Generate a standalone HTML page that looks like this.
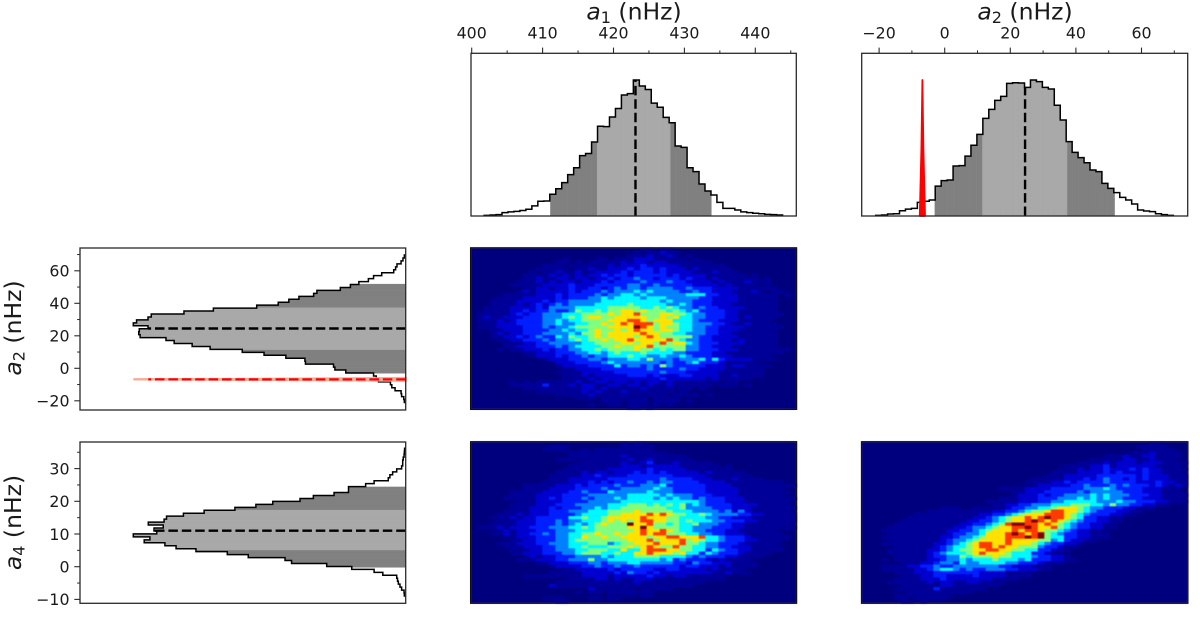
<!DOCTYPE html>
<html lang="en">
<head>
<meta charset="utf-8">
<title>Posterior distributions of a1, a2 and a4</title>
<style>
html,body{margin:0;padding:0;background:#fff;width:1200px;height:617px;overflow:hidden}
svg{display:block;font-family:"DejaVu Sans","Liberation Sans",sans-serif;fill:#1a1a1a;filter:blur(.3px)}
</style>
</head>
<body>
<svg id="chart" xmlns="http://www.w3.org/2000/svg" width="1200" height="617" viewBox="0 0 1200 617"></svg>
<script>
// Histogram counts, normalised to a peak of 100
const a1Counts = [.5,.7,1,2.5,3,3.4,4,5,7.4,10.8,11,16,20,24.5,30.4,35.5,44.4,46,54.4,66,65.7,72.8,79,89,90,100,95.6,93,83,80,72.5,68.6,51.5,50.5,35.5,32.6,23.5,18.4,15.4,10,5.6,5.6,4.4,3,2.5,2,1.7,1.2,1,.7];
const a2Counts = [.5,.7,1.5,1.7,3.9,5.1,5.6,10,10.8,11.8,22,26,26.5,36.8,37,44,52,60,71.8,78.4,85,88,97.5,98,97.8,94.6,100,98.8,94.6,93.4,81.4,70.6,54.7,46.8,42.9,39.2,33.8,32.6,24,20.3,17.2,13.7,11.8,8.8,4.4,3.7,3.2,1.7,1,.5];
const a4Counts = [.5,.6,1.5,2.1,2.7,3,3.3,8.4,11.6,19.8,29,41.9,44.3,57.8,65.5,77,84.3,88.4,96,93.9,100,91.4,92.4,89,94.5,88.7,87.8,81.6,74,62.7,55,48.8,38.8,33.9,26.3,21,21,14.7,11.6,6.4,5.8,4.8,3.3,1.5,1.1,1.1,.9,.6,.5,.4];
// Histogram bins: [first edge, bin width] in nHz
const a1Bins = [401.75, .842];
const a2Bins = [-21.04, 1.815];
const a4Bins = [-8.96, .904];
// Credible intervals and medians in nHz
const a1Outer = [411.1, 433.8], a1Inner = [417.7, 428], a1Median = 423.1;
const a2Outer = [-3, 51.8], a2Inner = [11.5, 37.3], a2Median = 24.5;
const a4Outer = [-.2, 24.4], a4Inner = [5.1, 17.3], a4Median = 11;
// Comparison distribution (red) for a2
const refA2Values = [-7.6, -7.1, -6.8, -6.5, -6.0];
const refA2Counts = [0, 50, 100, 50, 0];
const refA2Median = -6.8;
// Tick labels
const a1Major = [400,410,420,430,440], a1Minor = [405,415,425,435,445];
const a2Major = [-20,0,20,40,60], a2Minor = [-10,10,30,50,70];
const a4Major = [-10,0,10,20,30], a4Minor = [-5,5,15,25,35];
// 2D histogram intensity levels (0-9). Each row, top to bottom: first non-empty bin, then levels.
const heatA1A2 = [
[26,1,1,0,1,1],[25,1,0,1,1,2,1,1],[24,1,1,1,2,1,1,2,1,0,1],
[14,1,0,0,0,0,1,1,0,1,1,1,2,2,2,1,1,1,1,1,0,1],
[13,1,1,0,1,0,1,1,1,1,1,2,1,2,2,1,2,2,1,1,1,1,1,1,1],
[11,1,1,1,0,1,1,1,1,1,1,2,1,2,2,2,3,2,2,2,2,2,1,1,1,1,1,1,1],
[10,1,1,1,1,1,0,1,1,2,1,1,2,2,2,3,2,3,3,2,3,2,2,2,1,2,1,1,1,1,1],
[9,1,0,1,1,2,1,1,2,1,1,2,2,2,2,3,2,3,3,3,2,3,2,2,2,2,1,1,1,2,1,1,1],
[8,1,1,1,1,2,1,2,1,2,1,2,2,3,2,3,3,2,3,3,3,3,3,2,3,2,2,2,2,1,1,1,1,1,1,0,1],
[8,1,1,2,1,1,2,2,1,2,2,1,2,2,3,2,3,3,4,3,3,2,3,3,3,2,3,2,2,1,2,1,1,1,1,1,1,0,1],
[7,1,1,1,2,1,2,1,2,2,1,2,2,2,3,2,3,3,3,3,4,3,3,3,4,3,3,2,2,2,2,1,2,1,1,1,2,1,1,1],
[6,1,1,1,1,1,2,2,2,2,3,2,2,2,3,3,3,3,3,4,4,3,3,4,3,3,3,3,3,2,2,2,2,1,2,1,1,1,1,0,1],
[8,1,1,2,2,1,2,2,3,2,2,3,3,2,3,4,3,4,4,3,4,4,4,4,3,3,4,3,3,3,2,2,2,2,1,1,1,1,1,1],
[7,1,2,1,2,2,2,2,2,3,2,3,3,3,4,3,4,4,4,5,4,5,4,4,4,4,3,3,4,3,3,2,2,2,1,1,1,2,1,0,1,1],
[5,1,1,1,1,1,2,2,2,3,2,3,3,3,3,4,3,4,4,5,5,4,5,4,4,4,4,4,4,5,5,5,3,3,2,2,2,1,1,1,1,1,1,0,1],
[4,1,1,1,1,2,2,2,2,2,3,2,3,3,3,4,4,5,4,5,5,5,5,4,5,5,5,4,4,4,4,4,3,3,2,2,2,2,1,1,1,1,1,1],
[3,1,1,1,1,2,2,2,2,3,2,3,3,4,4,4,4,4,5,5,5,5,5,5,5,5,5,4,5,4,4,4,3,3,3,2,2,2,2,1,1,1,1,1,1],
[3,1,1,1,1,2,1,2,3,2,3,4,3,4,4,4,4,5,5,5,5,5,6,5,5,5,5,5,4,4,5,4,3,3,3,2,2,2,1,1,1,1,1,1,1],
[2,1,1,1,1,2,2,2,2,3,2,4,4,4,4,5,5,5,5,5,6,6,6,6,6,5,5,6,5,6,5,4,4,3,4,3,3,2,2,2,2,1,1,1,1,1],
[2,1,1,1,1,2,2,3,2,3,3,4,3,3,4,6,5,5,6,5,6,6,7,7,6,7,6,6,6,5,6,5,4,5,3,3,3,3,2,2,1,1,1,1,1,1],
[1,1,1,1,1,1,2,3,2,3,3,4,4,4,5,5,5,6,6,6,6,7,6,7,7,8,6,6,6,7,7,6,6,5,4,4,3,3,3,2,2,1,1,1,1,1,1,1],
[1,1,2,1,1,2,2,2,3,3,3,4,4,4,5,6,5,6,7,7,6,6,7,7,7,7,7,6,6,7,6,7,5,5,4,4,3,3,3,2,2,1,2,1,1,1,1],
[1,1,1,1,2,1,2,3,3,3,3,4,4,5,4,5,5,6,6,6,6,7,7,7,8,8,7,6,7,7,7,5,5,5,4,3,3,3,2,2,2,1,1,1,1,1],
[2,1,1,2,2,2,3,3,3,3,4,4,5,4,4,5,5,6,6,7,6,7,8,7,8,8,8,6,7,7,6,5,5,4,4,4,3,3,2,1,1,2,1,1,1,1],
[1,1,1,1,2,2,2,2,3,3,3,4,3,4,4,5,6,6,6,6,6,7,7,7,7,9,8,7,6,7,6,6,5,5,4,4,3,3,2,2,2,2,1,1,1,1,1,1],
[3,1,1,2,2,2,3,3,3,3,4,4,5,4,5,5,6,7,6,6,7,6,7,8,7,7,6,7,7,6,5,5,4,4,3,3,2,2,2,1,1,1,1,1,1],
[3,1,2,1,2,2,3,3,3,4,4,4,4,5,4,6,6,7,6,7,7,7,7,7,8,7,7,6,6,5,5,4,4,4,3,3,2,2,1,1,1,1,1,1,1],
[3,1,1,2,2,3,2,3,4,3,3,5,4,6,5,5,6,7,6,7,7,7,7,6,7,8,7,6,6,6,6,6,4,3,3,2,2,2,2,1,1,1,1,1,1],
[4,1,1,2,2,3,3,3,4,3,4,4,5,6,5,6,6,7,6,7,7,8,7,7,7,7,7,8,6,5,4,4,3,3,2,2,2,1,2,1,1,1,1,1],
[5,1,1,1,2,2,3,3,4,4,4,4,4,5,5,6,6,6,6,7,7,6,7,7,6,8,6,7,7,5,4,3,3,3,2,2,2,2,1,1,1,1,1],
[5,1,1,2,2,2,3,3,3,4,3,4,5,5,5,5,6,6,7,6,6,7,7,8,6,6,6,6,6,4,4,3,3,2,2,2,1,1,1,1,1,1,1],
[4,1,0,1,1,2,2,2,3,2,3,3,4,4,5,5,6,5,6,6,6,6,7,6,6,5,6,5,6,6,4,4,3,3,3,2,2,2,1,1,1,1,1,1,1,1],
[8,1,1,2,2,2,3,3,3,4,4,5,5,4,5,6,5,5,5,6,5,5,5,5,4,4,3,3,3,3,2,2,1,1,1,1,1,1,1,1,1],
[9,1,2,2,2,3,2,3,3,4,3,4,4,5,5,5,6,5,5,4,4,5,4,4,5,4,3,3,3,2,2,2,1,1,1,1,1,1],
[11,1,2,2,2,3,3,3,4,4,3,4,4,4,5,5,4,6,4,4,4,3,4,4,4,5,3,5,3,2,2,2,2,1,1,1,1],
[13,2,2,2,3,3,3,3,4,5,4,4,4,4,4,4,4,3,4,3,3,4,5,3,3,3,2,1,1,1,1,1],
[13,1,2,2,2,2,3,3,3,3,5,3,4,4,3,4,3,6,4,3,3,3,3,3,2,2,2,1,2,2,1,1,1,1],
[14,1,1,2,2,2,2,3,3,3,3,3,3,3,4,3,3,3,3,4,3,3,2,2,2,2,1,1,1,1,1,1],
[13,1,1,1,1,2,2,2,2,2,3,3,3,3,3,3,3,4,3,3,3,2,2,2,2,2,1,1,1,1,1,1,1],
[14,1,1,1,2,1,2,2,2,2,2,3,3,3,2,3,2,2,2,3,3,2,2,2,2,1,1,2,1,1,1,1],
[14,1,1,1,1,2,1,2,2,2,2,2,2,2,2,2,3,2,2,2,2,2,2,1,2,1,1,1,1,1],
[6,1,0,1,0,1,1,1,1,1,1,2,1,1,2,2,1,2,2,1,2,1,2,2,1,2,1,1,1,1,1,1,1,0,1,1],
[6,1,1,1,1,1,3,1,1,1,2,1,2,2,1,1,2,2,1,2,2,1,2,1,1,2,1,1,1,1,1,1,0,1,1,1,0,1],
[8,1,1,1,1,1,1,1,1,1,2,2,1,2,1,1,1,1,1,2,1,1,1,1,1,1,1,0,1],
[10,1,1,1,1,1,1,1,2,1,2,1,1,1,2,1,1,1,1,1,1,1,0,1],
[13,1,1,1,1,1,2,1,1,1,1,1,1,1,1,1,1,1,0,1,1,1,1,0,1],
[16,1,1,1,0,1,1,1,1,1,1,1,0,1,1,1,1],[20,1,1,1,0,1,1,1,0,1,1,1,1,0,1],
[18,1,0,0,1,1,0,1,1,1,0,1,0,1],[24,1,1,0,1],[24,0]
];
const heatA1A4 = [
[23,1,0,1,1],[12,1,1,1,0,0,0,0,0,0,0,0,1,1,1,0,1],[11,1,1,1,1,0,0,1,0,1,1,1,1,1,1,1,1,1],
[15,1,1,1,1,1,1,1,1,1,1,1,1,1,1,1],[15,1,1,1,1,1,1,1,1,2,1,1,1,1,1,1,1,1,1],
[13,1,1,1,0,1,1,1,1,1,1,1,2,1,1,2,1,1,1,1,1,1],
[16,1,1,1,1,1,1,1,2,1,1,2,3,1,1,1,2,1,1,1,1,1],
[15,1,1,1,1,1,1,1,1,2,2,2,1,2,2,2,2,2,1,1,1,1,1,1,0,1],
[14,1,1,1,1,1,1,1,2,2,2,2,2,2,3,2,2,2,2,2,1,1,1,1,1,1,1],
[13,1,1,1,1,2,1,2,2,1,2,2,2,3,2,3,2,3,2,2,2,2,2,1,2,1,1,1,1,1],
[12,1,1,1,1,1,2,2,3,2,2,2,2,3,3,3,3,3,3,3,2,2,2,2,2,1,1,1,1,1,1,1],
[12,1,1,1,2,2,2,2,2,2,3,3,3,3,3,3,3,3,4,3,3,3,3,2,2,2,1,1,1,2,1,1,1,1],
[11,1,1,1,1,2,2,2,3,2,3,2,3,3,4,3,3,4,3,4,4,3,3,3,3,2,2,2,2,1,1,1,1,1,1,1,1,1],
[8,1,1,1,1,1,2,2,2,3,2,3,3,3,3,4,3,3,3,4,4,4,5,3,3,3,3,3,3,2,2,2,2,1,1,1,1,1,1,1,1,1,1],
[8,1,1,1,1,2,2,2,2,3,3,3,3,4,3,3,4,4,4,4,4,5,4,4,3,3,3,3,3,2,2,2,2,2,1,1,1,1,1,1,1],
[6,1,1,1,1,1,2,2,2,2,3,3,4,3,3,3,5,4,4,4,4,4,5,4,4,4,3,3,3,3,3,2,2,2,2,2,1,1,1,1,1,1,1,1],
[6,1,1,1,1,2,2,2,2,3,3,3,3,4,4,4,4,4,4,5,5,5,5,5,4,5,4,4,4,3,3,3,2,2,2,2,1,1,1,1,1,1,1],
[5,1,1,1,1,1,2,2,3,2,3,3,3,4,3,4,4,4,5,4,5,5,5,5,4,5,4,5,4,4,3,4,3,3,3,2,2,2,1,1,1,1,1,1,1,1],
[7,1,1,1,2,2,2,2,3,3,3,3,4,4,4,4,4,5,5,5,5,5,5,5,5,5,5,5,5,4,3,3,3,2,2,2,1,1,1,1,1,1,1],
[6,1,1,1,1,2,2,2,3,3,3,4,4,4,4,4,5,5,5,6,6,6,5,6,5,6,5,6,4,5,4,3,3,3,3,2,2,2,2,1,1,1,1,1],
[6,1,1,1,2,2,2,3,2,3,3,3,4,4,5,4,5,5,6,6,6,6,6,6,6,5,5,6,4,4,4,4,3,3,3,2,2,2,1,1,1,1,1,1,1],
[5,1,1,1,1,2,2,2,3,3,3,4,4,4,5,5,5,6,6,6,6,7,6,6,6,6,6,5,5,5,4,4,4,4,3,4,2,4,2,1,1,1,1,1,1],
[4,1,1,1,2,1,2,2,2,3,3,3,3,4,5,5,5,5,6,6,7,7,7,7,8,7,8,7,6,6,5,5,6,5,4,4,4,4,3,3,2,2,1,1,1,1,1,1,1],
[3,1,1,1,2,1,2,2,3,3,3,3,3,5,5,6,5,5,6,7,7,7,7,7,8,7,7,7,6,6,5,5,5,5,4,4,3,3,2,2,2,1,1,1,1,1,1,1],
[4,1,1,1,2,2,2,3,3,3,4,3,4,4,5,5,5,6,7,6,7,6,7,8,8,7,7,6,6,5,6,5,5,5,4,4,3,3,3,2,2,1,1,1,1,1,1],
[3,1,1,1,1,2,2,2,3,3,3,4,3,4,5,4,5,6,7,6,6,6,9,7,7,8,6,6,5,6,5,5,6,4,4,4,3,3,2,2,1,1,1,1,1,1,1],
[1,1,1,1,2,1,2,2,2,3,3,3,4,4,4,5,5,6,5,6,6,6,6,6,7,7,9,7,6,6,6,6,5,5,4,4,4,3,3,3,2,2,1,1,1,1,1,1,1,1],
[4,1,2,1,2,2,2,3,3,3,4,4,4,5,5,5,6,6,6,6,6,6,7,8,7,7,8,7,6,5,5,4,4,3,3,3,2,2,1,1,1,1,1,1],
[3,1,1,2,1,2,2,3,3,4,3,4,4,5,5,6,6,7,6,6,7,6,7,7,8,7,8,8,6,6,6,5,5,4,4,3,3,2,2,2,1,1,1,1,1,1],
[5,1,1,2,2,2,3,3,3,4,4,5,5,7,6,6,7,6,6,7,7,7,7,6,7,7,8,8,7,7,7,8,5,5,4,3,3,3,2,1,1,1,1,1,1],
[6,1,1,2,2,3,3,3,4,4,5,6,6,6,6,6,6,6,6,7,7,7,8,6,7,7,7,8,6,7,6,5,5,4,3,3,3,2,2,1,1,1,1],
[4,1,1,1,2,2,2,3,3,4,4,4,5,5,5,6,6,6,4,5,6,6,7,7,7,8,7,7,7,8,6,6,5,4,4,3,3,3,2,1,1,1,1,1],
[5,1,1,1,2,2,2,3,3,4,4,5,5,6,5,5,5,6,6,6,7,6,7,8,7,6,6,8,6,6,5,5,4,4,3,3,2,2,2,1,1,1,1,1],
[6,1,1,1,2,2,3,3,4,4,4,5,5,6,6,6,5,5,7,5,5,7,8,8,8,7,7,6,6,5,5,3,5,4,3,3,2,2,1,1,1,1,1],
[6,1,1,2,2,2,3,3,3,4,4,5,6,6,6,5,5,6,5,5,7,7,8,7,7,7,6,7,5,5,3,5,4,3,3,3,2,1,1,1,1],
[8,1,2,1,2,2,3,3,3,4,4,4,4,5,4,5,5,5,6,6,6,6,5,5,5,5,4,3,4,3,3,3,2,2,1,1,1,1],
[7,1,1,1,2,2,2,3,3,4,4,4,6,4,4,5,5,5,5,5,5,5,5,4,5,3,4,3,3,3,2,1,2,1,1,1,1],
[10,1,1,2,2,2,3,3,3,4,4,3,4,4,4,5,5,4,4,4,4,4,3,3,2,4,3,3,2,2,2,1,1,1,1],
[12,1,2,2,2,2,3,3,4,3,3,4,3,3,4,3,3,3,3,3,3,2,3,3,2,2,2,1,2,1,1,1,1],
[14,1,1,2,2,2,2,2,3,2,3,3,3,3,3,2,2,3,3,2,2,2,2,1,2,1,1,1,1],
[12,1,1,1,1,1,2,2,2,2,2,3,2,4,3,3,2,3,2,2,2,2,2,2,2,2,1,1,2,1,1,1],
[8,1,1,1,1,1,1,1,1,1,2,2,2,2,1,2,2,2,2,2,3,2,2,1,2,2,1,1,1,1,1,1],
[15,1,1,1,1,2,2,1,2,1,1,2,2,2,1,1,1,1,1,1,1,1,1,1,1],
[13,1,1,1,1,1,1,1,1,1,1,1,1,2,1,1,1,1,1,1,1,1,1,1],
[12,2,1,1,1,1,1,1,1,1,1,1,1,1,1,1,1,1,1,1,1,1,1],
[18,2,1,1,1,1,1,1,0,1,1,1,1,1],[16,1,0,1,1,0,1,1,1,1,1,1,1],[21,1,0,1,1,0,1,1],
[11,1,1,1,0,0,0,0,1,1,0,1,1],[13,1,1]
];
const heatA2A4 = [
[44,1,1],[42,1,1,1,1,1],[43,1,1,1,1,1],[41,1,1,1,2,1,1,1,1],
[37,1,1,1,2,1,1,2,2,1,1,1,1],[35,1,1,1,1,1,2,2,1,1,2,1,1,1],
[33,1,1,1,1,2,1,2,2,2,1,2,2,2,1,1,1,1],[31,1,1,1,1,2,2,3,1,2,2,2,2,2,2,1,1,1,1],
[30,1,1,1,2,1,2,2,3,2,2,2,3,2,3,2,2,1,1,1,1,1],[29,1,1,1,1,2,2,2,2,3,2,3,2,2,2,3,2,2,1,1,1],
[28,1,1,1,2,2,2,2,2,3,3,3,3,3,3,2,3,2,2,2,1,1,1,1],
[26,1,1,1,1,1,2,2,2,3,2,3,4,3,3,2,3,2,3,2,2,2,1,1,1],
[25,1,1,1,1,2,2,3,2,3,3,3,3,4,3,3,3,3,2,2,2,3,2,2,1,1,1],
[26,1,2,2,2,2,2,3,3,4,3,3,3,4,3,4,3,3,3,2,3,2,1,2,1,1],
[21,1,1,1,1,2,2,2,2,3,3,3,3,3,4,4,4,5,4,3,3,3,3,2,2,2,1,1,1],
[23,1,1,2,2,2,3,3,3,3,3,4,3,4,4,4,4,4,3,3,3,2,2,2,1,1,1],
[23,1,2,2,2,3,2,3,3,4,4,4,4,5,4,5,4,4,4,3,3,3,2,2,1,1,1,1],
[21,1,1,1,2,2,2,3,3,3,4,4,4,5,4,5,4,5,4,4,3,3,3,2,2,2,1,1,1],
[19,1,1,1,1,1,2,2,2,3,3,4,4,5,5,5,5,5,4,4,4,5,4,4,3,3,3,2,2,1,1,1],
[20,1,1,2,2,3,3,4,4,4,5,5,5,6,6,6,5,5,4,6,4,4,3,3,2,2,1,1],
[12,1,1,1,0,0,1,1,1,1,1,2,3,3,4,4,5,5,6,7,7,7,6,5,4,4,3,3,3,2,2,1,1,1],
[10,1,1,1,1,1,1,1,1,1,1,2,2,3,3,4,5,6,6,7,8,8,7,7,6,5,4,3,3,3,2,2,1,1],
[8,1,1,1,1,1,1,1,1,1,1,2,2,3,3,4,5,6,7,7,7,8,8,8,7,6,5,4,3,3,3,2,2,1,1],
[7,1,1,1,1,1,1,1,1,1,1,2,2,3,4,5,6,7,7,8,7,8,9,8,8,7,6,5,3,3,2,2,1,1],
[6,1,1,1,1,1,1,1,1,1,1,2,2,3,3,4,5,6,7,7,8,9,8,7,8,7,6,5,4,3,3,2,2,1,1],
[5,1,1,1,1,1,1,1,1,1,1,2,2,3,3,4,5,6,8,9,9,8,8,7,8,7,6,5,4,3,3,2,2,1,1],
[4,1,1,1,1,1,1,1,1,1,1,2,2,3,4,4,5,6,7,7,8,8,9,8,7,7,8,6,5,4,3,3,2,2,1,1],
[3,1,1,1,1,1,1,1,1,1,1,2,2,3,3,4,5,6,7,7,7,8,7,8,8,7,6,6,5,4,3,2,2,1,1],
[4,1,1,1,1,1,1,1,1,1,2,3,3,4,4,5,7,7,7,8,9,8,7,8,9,6,5,4,3,3,2,2,1,1,1],
[3,1,1,1,1,1,1,1,1,1,2,2,3,4,4,5,6,7,7,7,8,8,8,9,8,9,6,5,5,3,3,2,2,1,1,1],
[4,1,1,1,1,1,1,1,1,2,3,4,4,5,6,7,7,7,7,8,7,7,7,7,6,6,4,5,3,2,2,1,1],
[3,1,1,1,1,1,1,1,1,2,2,3,4,5,6,7,8,8,7,7,8,7,7,7,6,5,4,3,3,2,2,1],
[5,1,1,1,1,1,1,2,3,4,5,5,6,7,8,8,7,8,7,7,6,6,6,4,3,3,2,1,1],
[4,1,1,1,1,1,1,2,2,3,4,5,6,6,7,7,8,8,7,7,6,6,5,5,3,3,2,1,1],
[4,1,1,1,1,1,1,2,3,4,5,5,5,6,7,8,7,7,7,6,5,5,5,3,3,2,1,1],
[5,1,1,1,1,1,2,3,3,4,4,6,5,6,6,6,7,6,6,5,5,5,4,3,3,2,2,1],
[3,1,0,1,1,1,1,1,2,2,3,4,4,5,4,5,5,5,6,5,5,5,4,5,3,3,3,2,2,1,1],
[6,1,1,1,2,2,3,4,4,3,5,4,4,5,5,5,5,4,4,3,3,3,2,1,1,1],
[3,1,1,1,1,2,2,3,3,4,3,3,4,4,4,4,4,4,4,3,3,2,2,2,1,1,1],
[3,1,1,1,1,1,2,2,3,4,5,5,4,3,4,3,3,4,4,4,3,3,2,2,2,1,1],
[5,1,1,1,2,2,2,3,3,3,3,3,3,3,2,2,2,2,1,1,1,1],
[6,1,1,1,2,2,3,3,2,2,2,2,3,2,2,2,2,1,1,1,1],
[5,1,1,1,1,2,2,2,3,2,2,2,2,2,2,2,1,1,1,1],
[4,1,1,1,1,1,1,2,1,2,2,1,1,2,2,1,1,1,1],
[6,1,1,1,1,1,1,2,2,1,1,1,1,1,1,1],
[5,1,1,1,1,1,1,3,1,1,1,1,1,1,1],
[7,1,1,1,1,1,1,1,1,1,1],[5,1,1,1,1,1,1,1,1,1],[5,1,1,0,1,1,1,1,1],[6,1,1,0,1]
];

// Axis functions
const xA1 = v => 471.7 + (v - 400) * 7.09;
const xA2 = v => 944.7 + v * 3.28;
const yA2 = v => 368.3 - v * 1.625;
const yA4 = v => 566.7 - v * 3.27;
const topCount = c => 216 - c * 1.36;
const leftCount = c => 405.7 - c * 2.724;

const NS = 'http://www.w3.org/2000/svg';
const root = document.getElementById('chart');
function make(tag, attrs, parent) {
  const e = document.createElementNS(NS, tag);
  for (const k in attrs) e.setAttribute(k, attrs[k]);
  (parent || root).appendChild(e);
  return e;
}
function jet(level) {
  const t = Math.pow(level / 9, 1.7);
  const c = x => Math.round(255 * Math.max(0, Math.min(1, 1.5 - Math.abs(4 * t - x))));
  return 'rgb(' + c(3) + ',' + c(2) + ',' + c(1) + ')';
}
function fmt(v) { return String(v).replace('-', '\u2212'); }

function drawFrame(x0, y0, x1, y1, name) {
  const f = make('rect', {x: x0, y: y0, width: x1 - x0, height: y1 - y0, fill: 'none', stroke: '#2a2a2a', 'stroke-width': 1.3});
  
  
}
function drawTopTicks(scale, major, minor, name) {
  major.forEach(v => {
    const t = make('line', {x1: scale(v), x2: scale(v), y1: 53.3, y2: 47.6, stroke: '#2a2a2a', 'stroke-width': 1.1});
    
    
    const l = make('text', {x: scale(v), y: 38.5, 'text-anchor': 'middle', 'font-size': 15.8});
    
    
    l.textContent = fmt(v);
  });
  minor.forEach(v => {
    const t = make('line', {x1: scale(v), x2: scale(v), y1: 53.3, y2: 50.4, stroke: '#2a2a2a', 'stroke-width': 1});
    
    
  });
}
function drawLeftTicks(scale, major, minor, name) {
  major.forEach(v => {
    const t = make('line', {x1: 80, x2: 74.3, y1: scale(v), y2: scale(v), stroke: '#2a2a2a', 'stroke-width': 1.1});
    
    
    const l = make('text', {x: 69.5, y: scale(v) + 5.8, 'text-anchor': 'end', 'font-size': 15.8});
    
    
    l.textContent = fmt(v);
  });
  minor.forEach(v => {
    const t = make('line', {x1: 80, x2: 77.1, y1: scale(v), y2: scale(v), stroke: '#2a2a2a', 'stroke-width': 1});
    
    
  });
}
function drawTitle(sub, x, y, rotated, name) {
  const attrs = {x: x, y: y, 'text-anchor': 'middle', 'font-size': 23.5};
  if (rotated) attrs.transform = 'rotate(-90 ' + x + ' ' + y + ')';
  const t = make('text', attrs);
  
  
  const a = make('tspan', {'font-style': 'italic'}, t);
  a.textContent = 'a';
  const s = make('tspan', {'font-size': 16, dy: 3.5}, t);
  s.textContent = sub;
  const u = make('tspan', {dy: -3.5}, t);
  u.textContent = ' (nHz)';
}
function drawHistogram(counts, bins, outer, inner, median, pos, val, horizontal, name) {
  const start = bins[0], w = bins[1];
  const pt = (a, c) => horizontal ? val(c) + ' ' + pos(a) : pos(a) + ' ' + val(c);
  const band = (range, color, bandName) => {
    counts.forEach((c, i) => {
      const lo = Math.max(range[0], start + i * w), hi = Math.min(range[1], start + (i + 1) * w);
      if (hi <= lo) return;
      const p = make('path', {d: 'M' + pt(lo, 0) + 'L' + pt(lo, c) + 'L' + pt(hi, c) + 'L' + pt(hi, 0) + 'Z', fill: color, stroke: color, 'stroke-width': .4});
      
      
    });
  };
  band(outer, '#808080', name + '-outer-interval');
  band(inner, '#a9a9a9', name + '-inner-interval');
  let d = 'M' + pt(start, 0);
  counts.forEach((c, i) => { d += 'L' + pt(start + i * w, c) + 'L' + pt(start + (i + 1) * w, c); });
  d += 'L' + pt(start + counts.length * w, 0);
  const o = make('path', {d: d, fill: 'none', stroke: '#000', 'stroke-width': 1.5});
  
  
  const mi = Math.min(counts.length - 1, Math.max(0, Math.floor((median - start) / w)));
  const m = make('path', {d: 'M' + pt(median, 0) + 'L' + pt(median, counts[mi]), fill: 'none', stroke: '#000', 'stroke-width': 2.4, 'stroke-dasharray': '9.5 3.9'});
  
  
}
function drawReference(pos, val, horizontal, name) {
  const pt = (a, c) => horizontal ? val(c) + ' ' + pos(a) : pos(a) + ' ' + val(c);
  const d = refA2Values.map((v, i) => (i ? 'L' : 'M') + pt(v, refA2Counts[i])).join('') + 'Z';
  const s = make('path', horizontal
    ? {d: d, fill: '#f08a70', stroke: '#f0a088', 'stroke-width': 2.4, opacity: .85}
    : {d: d, fill: '#f00', stroke: '#f00', 'stroke-width': 1.8, 'stroke-linejoin': 'round'});
  
  
  if (horizontal) {
    const m = make('path', {d: 'M' + pt(refA2Median, 0) + 'L' + pt(refA2Median, 94.5), fill: 'none', stroke: '#f00', 'stroke-width': 2.2, 'stroke-dasharray': '9.5 3.9'});
    
    
  }
}
function drawHeatmap(rows, x0, y0, w, h, name) {
  const g = make('g', {style: 'filter:blur(.4px)'});
  
  
  const bg = make('rect', {x: x0, y: y0, width: w, height: h, fill: '#00007f'}, g);
  
  
  const cw = w / 50, ch = h / 50;
  rows.forEach((row, r) => {
    row.slice(1).forEach((level, i) => {
      const col = row[0] + i;
      if (!level || col >= 50) return;
      const c = make('rect', {x: x0 + col * cw, y: y0 + r * ch, width: cw + .3, height: ch + .3, fill: jet(level)}, g);
      
      
    });
  });
  const f = make('rect', {x: x0, y: y0, width: w, height: h, fill: 'none', stroke: '#111', 'stroke-width': 1.2});
  
  
}

// Top marginal: a1
drawHistogram(a1Counts, a1Bins, a1Outer, a1Inner, a1Median, xA1, topCount, false, 'a1-histogram');
drawFrame(471, 53.3, 796.3, 216, 'a1-histogram-frame');
drawTopTicks(xA1, a1Major, a1Minor, 'a1-axis');
drawTitle('1', 634, 19.5, false, 'a1-axis-title');

// Top marginal: a2
drawHistogram(a2Counts, a2Bins, a2Outer, a2Inner, a2Median, xA2, topCount, false, 'a2-histogram');
drawReference(xA2, topCount, false, 'a2-reference');
drawFrame(861.7, 53.3, 1187.7, 216, 'a2-histogram-frame');
drawTopTicks(xA2, a2Major, a2Minor, 'a2-axis');
drawTitle('2', 1025, 19.5, false, 'a2-axis-title');

// Left marginal: a2
drawHistogram(a2Counts, a2Bins, a2Outer, a2Inner, a2Median, yA2, leftCount, true, 'a2-side-histogram');
drawReference(yA2, leftCount, true, 'a2-side-reference');
drawFrame(80, 248, 405.7, 410, 'a2-side-frame');
drawLeftTicks(yA2, a2Major, a2Minor, 'a2-side-axis');
drawTitle('2', 21, 328, true, 'a2-side-axis-title');

// Left marginal: a4
drawHistogram(a4Counts, a4Bins, a4Outer, a4Inner, a4Median, yA4, leftCount, true, 'a4-side-histogram');
drawFrame(80, 442, 405.7, 603.3, 'a4-side-frame');
drawLeftTicks(yA4, a4Major, a4Minor, 'a4-side-axis');
drawTitle('4', 21, 522.5, true, 'a4-side-axis-title');

// Joint distributions
drawHeatmap(heatA1A2, 470.6, 247.8, 326, 161.6, 'a1-a2-heatmap');
drawHeatmap(heatA1A4, 470.6, 441.7, 326, 161.6, 'a1-a4-heatmap');
drawHeatmap(heatA2A4, 861.5, 441.7, 326.4, 161.6, 'a2-a4-heatmap');
</script>
</body>
</html>
